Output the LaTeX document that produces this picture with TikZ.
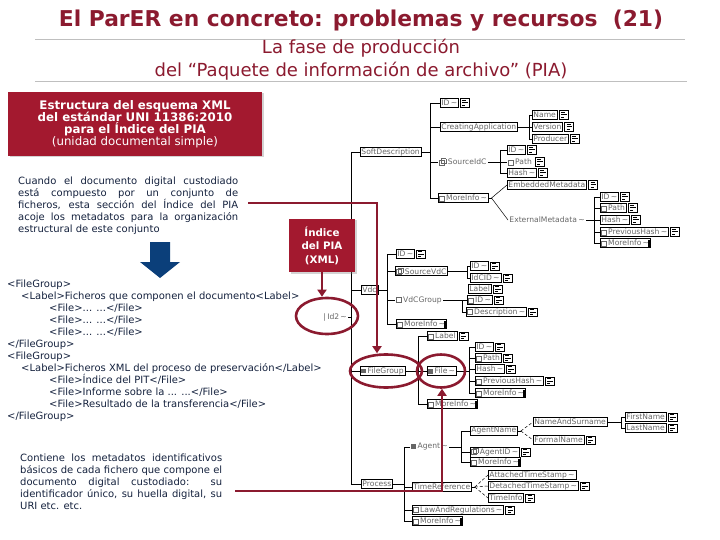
\documentclass[tikz,border=0pt]{standalone}
\usepackage{fontspec}
\setmainfont{DejaVu Sans}
\usetikzlibrary{arrows.meta,shapes.geometric,shadows}

\definecolor{parred}{HTML}{8B1A2F}
\definecolor{boxred}{HTML}{A3192F}
\definecolor{ink}{HTML}{14213D}
\definecolor{arrblue}{HTML}{0B3F7A}
\definecolor{rulegray}{HTML}{BFBFBF}

\hyphenpenalty=10000
\exhyphenpenalty=10000

\newcommand\tld{\,\textasciitilde}
\newcommand\sq{{\fboxsep=0pt\fboxrule=0.5pt\fbox{\rule{0pt}{4.5pt}\rule{4.5pt}{0pt}}}}
\newcommand\chk{\sq\,}
\newcommand\flg{\rule{5pt}{4.5pt}\,}
\newcommand\dbl{\rlap{\raisebox{1.5pt}{\hspace{1.5pt}\sq}}\sq\hspace{3pt}}

\tikzset{
  el/.style={draw,line width=0.5pt,fill=white,anchor=west,inner xsep=1.2pt,inner ysep=0.8pt,
    minimum height=9pt,font=\fontsize{7.6}{8}\selectfont,text=black!60},
  bare/.style={el,draw=none,fill=none},
  icon/.style={draw,line width=0.5pt,fill=white,minimum width=9pt,minimum height=8.5pt,inner sep=0pt,
    path picture={
      \draw[line width=0.9pt] ([shift={(2pt,-2pt)}]path picture bounding box.north west) -- ++(4pt,0pt);
      \draw[line width=0.9pt] ([shift={(2pt,-4.2pt)}]path picture bounding box.north west) -- ++(5.5pt,0pt);
      \draw[line width=0.9pt] ([shift={(2pt,-6.4pt)}]path picture bounding box.north west) -- ++(3pt,0pt);}},
  ic/.style={label={[icon,xshift=1.5pt]right:{}}},
  br/.style={label={[fill=black,minimum width=2pt,minimum height=7pt,inner sep=0pt,xshift=-3pt]right:{}}},
  tr/.style={line width=0.5pt},
  ch/.style={line width=0.5pt,densely dashed},
  rl/.style={draw=parred,line width=2.6pt},
  ring/.style={ellipse,draw=parred,line width=2.6pt,inner sep=0pt},
  redbox/.style={fill=boxred,text=white,align=center,inner sep=0pt,
    drop shadow={shadow xshift=1.5pt,shadow yshift=-1.5pt,opacity=0.35}},
  para/.style={anchor=north west,inner sep=0pt,align=justify,text=ink,font=\fontsize{10}{12}\selectfont},
}

\begin{document}
\begin{tikzpicture}[x=1pt,y=-1pt]
  \useasboundingbox (0,0) rectangle (720,540);
  % heading
  \node[font=\bfseries\fontsize{21.8}{24}\selectfont,text=parred] (ttl) at (361,21)
    {El ParER en concreto: problemas y recursos\ \ (21)};
  \draw[rulegray] (35,39) -- (685,39);
  \node[font=\fontsize{18}{19}\selectfont,text=parred] (st1) at (361,48) {La fase de producción};
  \node[font=\fontsize{18}{19}\selectfont,text=parred] (st2) at (361,71)
    {del “Paquete de información de archivo” (PIA)};
  \draw[rulegray] (35,81) -- (687,81);

  % left column
  \node[redbox,minimum width=254pt,minimum height=64pt] (hdr) at (135,124)
    {\fontsize{11.8}{13.3}\selectfont\bfseries Estructura del esquema XML\\
     \fontsize{11.8}{13.3}\selectfont\bfseries del estándar UNI 11386:2010\\
     \fontsize{11.8}{13.3}\selectfont\bfseries para el Índice del PIA\\
     \fontsize{11.8}{13.3}\selectfont (unidad documental simple)};
  \node[para,text width=220pt] (p1) at (18,176.5)
    {Cuando el documento digital custodiado\linebreak está compuesto por un conjunto de\linebreak
     ficheros, esta sección del Índice del PIA\linebreak acoje los metadatos para la
     organización\linebreak estructural de este conjunto};
  \fill[arrblue] (150,242) -- (170,242) -- (170,262) -- (180,262) -- (160,278)
    -- (140,262) -- (150,262) -- cycle;
  \node[anchor=north west,inner sep=0pt,align=left,text=ink,font=\fontsize{10}{12}\selectfont] (xml) at (7,280)
    {<FileGroup>\\
     \hspace*{14pt}<Label>Ficheros que componen el documento<Label>\\
     \hspace*{42pt}<File>... ...</File>\\
     \hspace*{42pt}<File>... ...</File>\\
     \hspace*{42pt}<File>... ...</File>\\
     </FileGroup>\\
     <FileGroup>\\
     \hspace*{14pt}<Label>Ficheros XML del proceso de preservación</Label>\\
     \hspace*{42pt}<File>Índice del PIT</File>\\
     \hspace*{42pt}<File>Informe sobre la ... ...</File>\\
     \hspace*{42pt}<File>Resultado de la transferencia</File>\\
     </FileGroup>};
  \node[para,text width=202pt] (p2) at (20,453.5)
    {Contiene los metadatos identificativos\linebreak básicos de cada fichero que compone el\linebreak
     documento digital custodiado: su\linebreak identificador único, su huella digital, su\linebreak
     URI etc. etc.};

  % schema: root level
  \coordinate (root) at (351,0);
  \node[el] (nSD) at (360,152) {SoftDescription};
  \node[el] (nVdc) at (361,290) {Vdc};
  \node[el] (nFG) at (360,371) {\flg FileGroup};
  \node[el] (nPr) at (361,484) {Process};
  \node[bare] (nId2) at (322,317) {|\,Id2\tld};
  \draw[tr] (root |- nSD.west) -- (root |- nPr.west);
  \foreach \c in {nSD,nVdc,nFG,nPr}
    \draw[tr] (root |- \c.west) -- (\c.west);
  \draw[tr] (nId2.east) -- (root |- nId2.east);

  % SoftDescription
  \coordinate (bSD) at (430,0);
  \node[el,ic] (nSDid) at (440,103) {ID\tld};
  \node[el] (nCA) at (440,127) {CreatingApplication};
  \node[bare] (nSIdC) at (438,162) {\dbl SourceIdC};
  \node[el] (nSDmi) at (438,198) {\chk MoreInfo\tld};
  \draw[tr] (nSD.east) -- (bSD |- nSD.east);
  \draw[tr] (bSD |- nSDid.west) -- (bSD |- nSDmi.west);
  \foreach \c in {nSDid,nCA,nSIdC,nSDmi}
    \draw[tr] (bSD |- \c.west) -- (\c.west);

  \coordinate (bCA) at (529,0);
  \node[el,ic] (nName) at (532,115) {Name};
  \node[el,ic] (nVer) at (532,127) {Version};
  \node[el,ic] (nProd) at (532,139) {Producer};
  \draw[tr] (nCA.east) -- (bCA |- nCA.east);
  \draw[tr] (bCA |- nName.west) -- (bCA |- nProd.west);
  \foreach \c in {nName,nVer,nProd}
    \draw[tr] (bCA |- \c.west) -- (\c.west);

  \coordinate (bSI) at (500,0);
  \node[el,ic] (nSIid) at (507,150) {ID\tld};
  \node[bare,ic] (nSIpa) at (507,162) {\chk Path};
  \node[el,ic] (nSIha) at (507,173) {Hash\tld};
  \draw[tr] (nSIdC.east) -- (bSI |- nSIdC.east);
  \draw[tr] (bSI |- nSIid.west) -- (bSI |- nSIha.west);
  \foreach \c in {nSIid,nSIpa,nSIha}
    \draw[tr] (bSI |- \c.west) -- (\c.west);

  % MoreInfo choice
  \node[el,ic] (nEmb) at (507,185) {EmbeddedMetadata};
  \node[bare] (nExt) at (508,220) {ExternalMetadata\tld};
  \coordinate (chSD) at ([xshift=3pt]nSDmi.east);
  \draw[tr] (nSDmi.east) -- (chSD);
  \draw[tr] (chSD) -- (nEmb.west);
  \draw[tr] (chSD) -- (nExt.west);

  \coordinate (bEx) at (594,0);
  \node[el,ic] (nEid) at (600,197) {ID\tld};
  \node[el,ic] (nEpa) at (600,208) {\chk Path};
  \node[el,ic] (nEha) at (600,220) {Hash\tld};
  \node[el,ic] (nEph) at (600,232) {\chk PreviousHash\tld};
  \node[el,br] (nEmi) at (600,243) {\chk MoreInfo\tld\hspace{2pt}};
  \draw[tr] (nExt.east) -- (bEx |- nExt.east);
  \draw[tr] (bEx |- nEid.west) -- (bEx |- nEmi.west);
  \foreach \c in {nEid,nEpa,nEha,nEph,nEmi}
    \draw[tr] (bEx |- \c.west) -- (\c.west);

  % Vdc
  \coordinate (bV) at (387,0);
  \node[el,ic] (nVid) at (396,254) {ID\tld};
  \node[el] (nSVdC) at (395,271) {\dbl SourceVdC};
  \node[bare] (nVG) at (395,300) {\chk VdCGroup};
  \node[el,br] (nVmi) at (396,324) {\chk MoreInfo\tld\hspace{2pt}};
  \draw[tr] (nVdc.east) -- (bV |- nVdc.east);
  \draw[tr] (bV |- nVid.west) -- (bV |- nVmi.west);
  \foreach \c in {nVid,nSVdC,nVG,nVmi}
    \draw[tr] (bV |- \c.west) -- (\c.west);

  \coordinate (bSV) at (467,0);
  \node[el,ic] (nSVid) at (470,266) {ID\tld};
  \node[el,ic] (nSVic) at (470,278) {IdCID\tld};
  \draw[tr] (nSVdC.east) -- (bSV |- nSVdC.east);
  \draw[tr] (bSV |- nSVid.west) -- (bSV |- nSVic.west);
  \foreach \c in {nSVid,nSVic}
    \draw[tr] (bSV |- \c.west) -- (\c.west);

  \coordinate (bVG) at (462,0);
  \node[el,ic] (nVGla) at (468,289) {Label};
  \node[el,ic] (nVGid) at (467,300) {\chk ID\tld};
  \node[el,ic] (nVGde) at (466,312) {\chk Description\tld};
  \draw[tr] (nVG.east) -- (bVG |- nVG.east);
  \draw[tr] (bVG |- nVGid.west) -- (bVG |- nVGde.west);
  \foreach \c in {nVGid,nVGde}
    \draw[tr] (bVG |- \c.west) -- (\c.west);

  % FileGroup
  \coordinate (bFG) at (418,0);
  \node[el,ic] (nFGla) at (427,336) {\chk Label};
  \node[el] (nFile) at (427,371) {\flg File\tld};
  \node[el,br] (nFGmi) at (427,404) {\chk MoreInfo\tld\hspace{2pt}};
  \draw[tr] (nFG.east) -- (bFG |- nFG.east);
  \draw[tr] (bFG |- nFGla.west) -- (bFG |- nFGmi.west);
  \foreach \c in {nFGla,nFile,nFGmi}
    \draw[tr] (bFG |- \c.west) -- (\c.west);

  \coordinate (bF) at (469,0);
  \node[el,ic] (nFid) at (475,347) {ID\tld};
  \node[el,ic] (nFpa) at (475,358) {\chk Path};
  \node[el,ic] (nFha) at (475,369) {Hash\tld};
  \node[el,ic] (nFph) at (475,381) {\chk PreviousHash\tld};
  \node[el,br] (nFmi) at (475,393) {\chk MoreInfo\tld\hspace{2pt}};
  \draw[tr] (nFile.east) -- (bF |- nFile.east);
  \draw[tr] (bF |- nFid.west) -- (bF |- nFmi.west);
  \foreach \c in {nFid,nFpa,nFha,nFph,nFmi}
    \draw[tr] (bF |- \c.west) -- (\c.west);

  % Process
  \coordinate (bP) at (404,0);
  \node[bare] (nAg) at (410,447) {\flg Agent\tld};
  \node[el] (nTR) at (412,487) {TimeReference};
  \node[el,ic] (nLaw) at (412,510) {\chk LawAndRegulations\tld};
  \node[el,br] (nPmi) at (412,521) {\chk MoreInfo\tld\hspace{2pt}};
  \draw[tr] (nPr.east) -- (bP |- nPr.east);
  \draw[tr] (bP |- nAg.west) -- (bP |- nPmi.west);
  \foreach \c in {nAg,nTR,nLaw,nPmi}
    \draw[tr] (bP |- \c.west) -- (\c.west);

  \coordinate (bA) at (461,0);
  \node[el] (nAN) at (470,431) {AgentName};
  \node[el,ic] (nAID) at (470,452) {\dbl AgentID\tld};
  \node[el,br] (nAmi) at (470,462) {\chk MoreInfo\tld\hspace{2pt}};
  \draw[tr] (nAg.east) -- (bA |- nAg.east);
  \draw[tr] (bA |- nAN.west) -- (bA |- nAmi.west);
  \foreach \c in {nAN,nAID,nAmi}
    \draw[tr] (bA |- \c.west) -- (\c.west);

  % AgentName choice
  \node[el] (nNS) at (533,422) {NameAndSurname};
  \node[el,ic] (nFN) at (533,440) {FormalName};
  \coordinate (chAN) at ([xshift=3pt]nAN.east);
  \draw[tr] (nAN.east) -- (chAN);
  \draw[ch] (chAN) -- (nNS.west);
  \draw[ch] (chAN) -- (nFN.west);

  \coordinate (bNS) at (621,0);
  \node[el,ic] (nFirst) at (625,417) {FirstName};
  \node[el,ic] (nLast) at (625,428) {LastName};
  \draw[tr] (nNS.east) -- (bNS |- nNS.east);
  \draw[tr] (bNS |- nFirst.west) -- (bNS |- nLast.west);
  \foreach \c in {nFirst,nLast}
    \draw[tr] (bNS |- \c.west) -- (\c.west);

  % TimeReference choice
  \node[el] (nATS) at (488,475) {AttachedTimeStamp\tld};
  \node[el,ic] (nDTS) at (488,486) {DetachedTimeStamp\tld};
  \node[el,ic] (nTI) at (488,498) {TimeInfo};
  \coordinate (chTR) at ([xshift=3pt]nTR.east);
  \draw[tr] (nTR.east) -- (chTR);
  \foreach \c in {nATS,nDTS,nTI}
    \draw[ch] (chTR) -- (\c.west);

  % index box, rings and red pointers
  \node[redbox,minimum width=66pt,minimum height=53pt,font=\bfseries\fontsize{10.3}{13.5}\selectfont] (idx) at (322,245.5)
    {Índice\\del PIA\\(XML)};
  \node[ring,minimum width=62pt,minimum height=36pt] (eId2) at (327,316) {};
  \node[ring,minimum width=72pt,minimum height=33pt] (eFG) at (386,371) {};
  \node[ring,minimum width=48pt,minimum height=33pt] (eF) at (441,371) {};
  \draw[rl,-{Triangle[length=7pt,width=9pt]}] (idx.south) -- (idx.south |- eId2.north);
  \coordinate (rA) at (248,203);
  \coordinate (rB) at (377,203);
  \draw[rl,-{Triangle[length=7pt,width=9pt]}] (rA) -- (rB) -- (rB |- eFG.north);
  \coordinate (rC) at (235,491);
  \coordinate (rD) at (442,491);
  \draw[rl,-{Triangle[length=7pt,width=9pt]}] (rC) -- (rD) -- (rD |- eF.south);
\end{tikzpicture}
\end{document}
